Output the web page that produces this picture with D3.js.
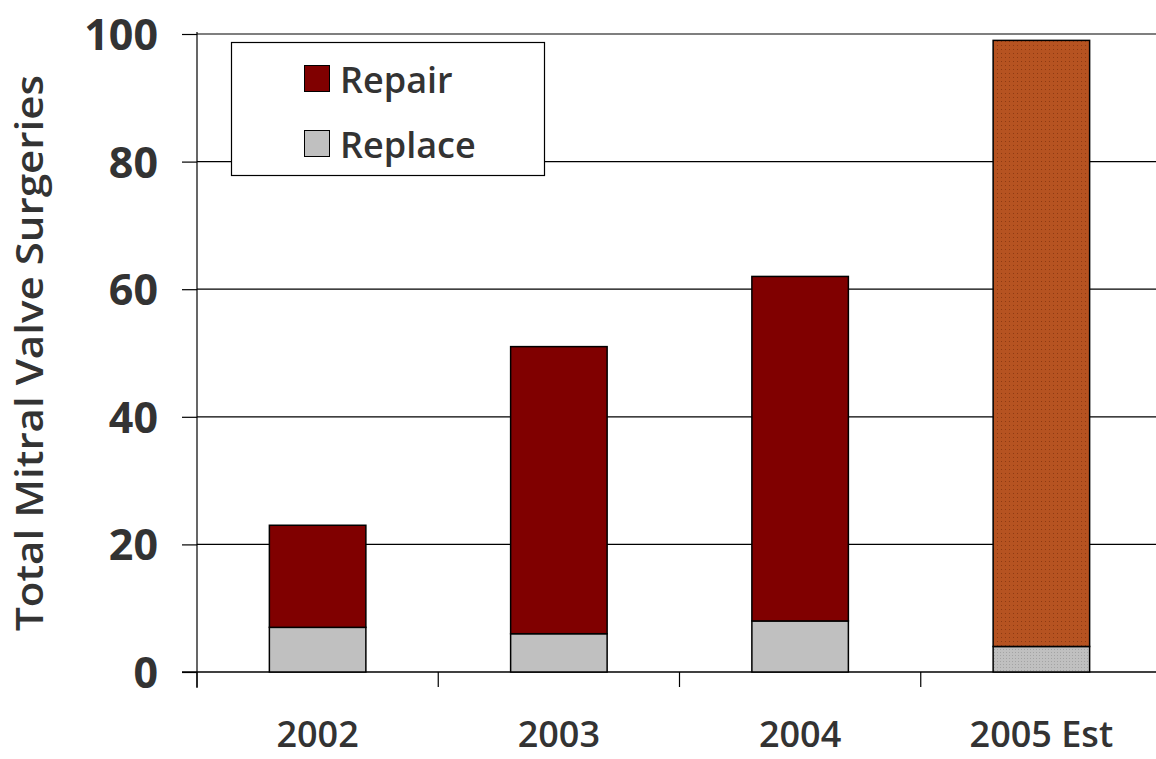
<!DOCTYPE html>
<html>
<head>
<meta charset="utf-8">
<script src="https://cdn.jsdelivr.net/npm/d3@7"></script>
<style>
  body { margin: 0; background: #fff; }
  text { font-family: "Open Sans", sans-serif; fill: #333; }
</style>
</head>
<body>
<div id="chart"></div>
<script>
// data
var years = ["2002", "2003", "2004", "2005 Est"];
var repair = [16, 45, 54, 95];
var replace = [7, 6, 8, 4];
var yTicks = [0, 20, 40, 60, 80, 100];
var seriesNames = ["Repair", "Replace"];

var w = 1156, h = 759;
var mLeft = 197, mRight = 1162, mTop = 34, mBottom = 672;

var svg = d3.select("#chart").append("svg")
  .attr("width", w)
  .attr("height", h);

// dotted textures for the estimate bar
var defs = svg.append("defs");
var p1 = defs.append("pattern").attr("id", "estRepair")
  .attr("width", 4).attr("height", 4).attr("patternUnits", "userSpaceOnUse");
p1.append("rect").attr("width", 4).attr("height", 4).attr("fill", "#b65321");
p1.append("rect").attr("x", 1).attr("y", 1).attr("width", 1).attr("height", 1).attr("fill", "#8e3a12");
var p2 = defs.append("pattern").attr("id", "estReplace")
  .attr("width", 3).attr("height", 3).attr("patternUnits", "userSpaceOnUse");
p2.append("rect").attr("width", 3).attr("height", 3).attr("fill", "#c0c0c0");
p2.append("rect").attr("x", 1).attr("y", 1).attr("width", 1).attr("height", 1).attr("fill", "#a4a4a4");

var x = d3.scaleBand()
  .domain(years)
  .range([mLeft, mRight])
  .paddingInner(0.6)
  .paddingOuter(0.3);

var y = d3.scaleLinear()
  .domain([0, 100])
  .range([mBottom, mTop]);

// gridlines
svg.append("g")
  .selectAll("line")
  .data(yTicks.slice(1))
  .enter()
  .append("line")
  .attr("x1", mLeft).attr("x2", w)
  .attr("y1", function(d) { return y(d); })
  .attr("y2", function(d) { return y(d); })
  .attr("stroke", "#000")
  .attr("stroke-width", 1.2);

// y axis
var yAxis = svg.append("g")
  .attr("transform", "translate(" + mLeft + ",0)")
  .call(d3.axisLeft(y).tickValues(yTicks).tickSize(15).tickPadding(24));
yAxis.select(".domain").remove();
yAxis.selectAll(".tick line").attr("stroke", "#000").attr("stroke-width", 1.2);
yAxis.selectAll("text")
  .style("font-size", "43px")
  .style("font-weight", "700")
  .attr("fill", "#333")
  .attr("dy", "0.36em");
svg.append("line")
  .attr("x1", mLeft).attr("x2", mLeft)
  .attr("y1", mTop - 2).attr("y2", mBottom + 16)
  .attr("stroke", "#000").attr("stroke-width", 1.2);

// x axis
svg.append("line")
  .attr("x1", mLeft - 15).attr("x2", w)
  .attr("y1", mBottom).attr("y2", mBottom)
  .attr("stroke", "#000").attr("stroke-width", 1.5);
svg.append("g")
  .selectAll("line")
  .data(years)
  .enter()
  .append("line")
  .attr("x1", function(d) { return x(d) - x.step() * 0.3; })
  .attr("x2", function(d) { return x(d) - x.step() * 0.3; })
  .attr("y1", mBottom).attr("y2", mBottom + 15)
  .attr("stroke", "#000").attr("stroke-width", 1.2);
svg.append("g")
  .selectAll("text")
  .data(years)
  .enter()
  .append("text")
  .attr("x", function(d) { return x(d) + x.bandwidth() / 2; })
  .attr("y", 747)
  .attr("text-anchor", "middle")
  .style("font-size", "36px")
  .style("font-weight", "600")
  .text(function(d) { return d; });

// bars
var bars = svg.append("g");
years.forEach(function(yr, i) {
  var est = i === years.length - 1;
  bars.append("rect")
    .attr("x", x(yr))
    .attr("y", y(replace[i]))
    .attr("width", x.bandwidth())
    .attr("height", y(0) - y(replace[i]))
    .attr("fill", est ? "url(#estReplace)" : "#c0c0c0")
    .attr("stroke", "#000").attr("stroke-width", 1.5);
  bars.append("rect")
    .attr("x", x(yr))
    .attr("y", y(replace[i] + repair[i]))
    .attr("width", x.bandwidth())
    .attr("height", y(replace[i]) - y(replace[i] + repair[i]))
    .attr("fill", est ? "url(#estRepair)" : "#800000")
    .attr("stroke", "#000").attr("stroke-width", 1.5);
});

// axis title
svg.append("text")
  .attr("transform", "translate(43,353) rotate(-90)")
  .attr("text-anchor", "middle")
  .attr("textLength", 556)
  .attr("lengthAdjust", "spacingAndGlyphs")
  .style("font-size", "37px")
  .style("font-weight", "600")
  .text("Total Mitral Valve Surgeries");

// legend
var legend = svg.append("g");
legend.append("rect")
  .attr("x", 231.5).attr("y", 42.5)
  .attr("width", 313).attr("height", 133)
  .attr("fill", "#fff").attr("stroke", "#000").attr("stroke-width", 1.2);
var swatch = ["#800000", "#c0c0c0"];
seriesNames.forEach(function(name, i) {
  legend.append("rect")
    .attr("x", 304.5).attr("y", 65.5 + i * 65)
    .attr("width", 25).attr("height", 26)
    .attr("fill", swatch[i]).attr("stroke", "#000").attr("stroke-width", 1);
  legend.append("text")
    .attr("x", 340).attr("y", 93 + i * 65)
    .style("font-size", "36px")
    .style("font-weight", "600")
    .text(name);
});
</script>
</body>
</html>
